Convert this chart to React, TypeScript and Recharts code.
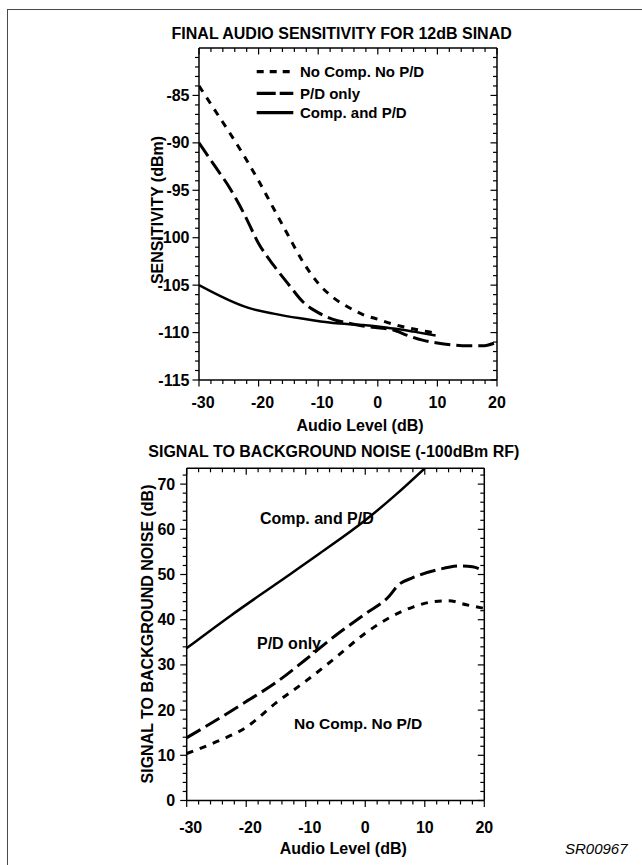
import React from 'react';
import { LineChart, Line, XAxis, YAxis, Legend } from 'recharts';

const FONT = '"Liberation Sans", Arial, Helvetica, sans-serif';

// ---------- Chart 1: Final audio sensitivity for 12dB SINAD ----------
const sensNoCompNoPD = [
  { x: -30, y: -84.0 }, { x: -27.5, y: -86.4 }, { x: -25, y: -88.8 }, { x: -22.5, y: -91.3 },
  { x: -20, y: -94.0 }, { x: -17.5, y: -96.9 }, { x: -15, y: -99.8 }, { x: -12.5, y: -102.6 },
  { x: -10, y: -104.8 }, { x: -7.5, y: -106.3 }, { x: -5, y: -107.3 }, { x: -2.5, y: -108.1 },
  { x: 0, y: -108.6 }, { x: 2.5, y: -109.1 }, { x: 5, y: -109.5 }, { x: 7.5, y: -109.8 }, { x: 10, y: -110.1 },
];
const sensPDOnly = [
  { x: -30, y: -90.0 }, { x: -27.5, y: -92.3 }, { x: -25, y: -94.6 }, { x: -22.5, y: -97.4 },
  { x: -20, y: -100.6 }, { x: -17.5, y: -102.9 }, { x: -15, y: -104.9 }, { x: -12.5, y: -106.8 },
  { x: -10, y: -107.9 }, { x: -7.5, y: -108.6 }, { x: -5, y: -109.0 }, { x: -2.5, y: -109.3 },
  { x: 0, y: -109.5 }, { x: 2.5, y: -109.7 }, { x: 5, y: -110.3 }, { x: 7.5, y: -110.8 },
  { x: 10, y: -111.1 }, { x: 12.5, y: -111.3 }, { x: 15, y: -111.4 }, { x: 17.5, y: -111.4 }, { x: 20, y: -111.0 },
];
const sensCompPD = [
  { x: -30, y: -105.0 }, { x: -21.7, y: -107.4 }, { x: -17.5, y: -108.0 },
  { x: -13, y: -108.5 }, { x: -7.5, y: -109.0 }, { x: -2.5, y: -109.2 }, { x: 0, y: -109.35 },
  { x: 3, y: -109.6 }, { x: 6, y: -109.9 }, { x: 9.7, y: -110.3 },
];

// ---------- Chart 2: Signal to background noise (-100dBm RF) ----------
const snrCompPD = [
  { x: -30, y: 33.7 }, { x: -22.5, y: 41.0 }, { x: -15, y: 47.9 }, { x: -7.5, y: 54.8 },
  { x: 0, y: 62.0 }, { x: 5, y: 67.5 }, { x: 10, y: 73.5 },
];
const snrPDOnly = [
  { x: -30, y: 13.9 }, { x: -25, y: 17.8 }, { x: -20, y: 21.9 }, { x: -15, y: 26.1 }, { x: -10, y: 31.2 },
  { x: -5, y: 36.5 }, { x: 0, y: 41.3 }, { x: 4, y: 45.2 }, { x: 5.5, y: 47.6 }, { x: 8, y: 49.3 },
  { x: 12, y: 51.0 }, { x: 16, y: 51.9 }, { x: 18, y: 51.7 }, { x: 20, y: 50.8 },
];
const snrNoCompNoPD = [
  { x: -30, y: 10.4 }, { x: -25, y: 13.0 }, { x: -20, y: 16.2 }, { x: -15, y: 21.6 }, { x: -10, y: 26.4 },
  { x: -5, y: 31.6 }, { x: 0, y: 37.0 }, { x: 4, y: 40.4 }, { x: 8, y: 42.8 }, { x: 11.5, y: 44.0 },
  { x: 14, y: 44.2 }, { x: 17, y: 43.3 }, { x: 20, y: 42.5 },
];

// ---------- Axis tick values ----------
const xTicks: number[] = [];
for (let v = -30; v <= 20; v += 2) xTicks.push(v);
const sensTicks: number[] = [];
for (let v = -115; v <= -81; v += 1) sensTicks.push(v);
const snrTicks: number[] = [];
for (let v = 0; v <= 72; v += 2) snrTicks.push(v);

const seriesNames = ['No Comp. No P/D', 'P/D only', 'Comp. and P/D'];
const annotationLabels = ['Comp. and P/D', 'P/D only', 'No Comp. No P/D'];

const SHORT_DASH = '7 7';
const LONG_DASH = '16 6';
const MAJOR = 6.5;
const MINOR = 4;
const TICK_FONT = 16;

const textStyle = { fontFamily: FONT, fontWeight: 700, fill: '#000' } as const;

const isMajor = (v: number, step: number) => Math.abs(v % step) < 1e-9;

function bottomTick(step: number, labelDy: number) {
  return (props: any) => {
    const { x, y, payload } = props;
    const v = payload.value as number;
    const major = isMajor(v, step);
    return (
      <g>
        <line x1={x} x2={x} y1={y} y2={y + (major ? MAJOR : MINOR)} stroke="#000" strokeWidth={1.2} />
        {major ? (
          <text x={x + (v < 0 ? 4 : 0)} y={y + labelDy} textAnchor="middle" dominantBaseline="central"
            fontSize={TICK_FONT} fontWeight="bold" fontFamily={FONT} fill="#000" style={textStyle}>
            {v}
          </text>
        ) : null}
      </g>
    );
  };
}
function topTick(step: number) {
  return (props: any) => {
    const { x, y, payload } = props;
    const major = isMajor(payload.value, step);
    return <line x1={x} x2={x} y1={y} y2={y + (major ? MAJOR : MINOR)} stroke="#000" strokeWidth={1.2} />;
  };
}
function leftTick(step: number, labelDx: number) {
  return (props: any) => {
    const { x, y, payload } = props;
    const v = payload.value as number;
    const major = isMajor(v, step);
    return (
      <g>
        <line x1={x - (major ? MAJOR : MINOR)} x2={x} y1={y} y2={y} stroke="#000" strokeWidth={1.2} />
        {major ? (
          <text x={x - labelDx} y={y} textAnchor="end" dominantBaseline="central"
            fontSize={TICK_FONT} fontWeight="bold" fontFamily={FONT} fill="#000" style={textStyle}>
            {v}
          </text>
        ) : null}
      </g>
    );
  };
}
function rightTick(step: number) {
  return (props: any) => {
    const { x, y, payload } = props;
    const major = isMajor(payload.value, step);
    return <line x1={x - (major ? MAJOR : MINOR)} x2={x} y1={y} y2={y} stroke="#000" strokeWidth={1.2} />;
  };
}

const axisLine = { stroke: '#000', strokeWidth: 1.5 };

const LegendBox = () => {
  const rows = [
    { name: seriesNames[0], dash: '7 6', y: 11.7 },
    { name: seriesNames[1], dash: '19 4', y: 33.3 },
    { name: seriesNames[2], dash: undefined, y: 52.7 },
  ];
  return (
    <svg width={220} height={66}>
      {rows.map((r) => (
        <g key={r.name}>
          <line x1={6.7} x2={43.3} y1={r.y} y2={r.y} stroke="#000" strokeWidth={3.2} strokeDasharray={r.dash} />
          <text x={50} y={r.y} dominantBaseline="central" fontSize={15} style={textStyle}>{r.name}</text>
        </g>
      ))}
    </svg>
  );
};

export default function App() {
  return (
    <div style={{ position: 'absolute', left: 0, top: 0, width: 642, height: 865, overflow: 'hidden', background: '#fff' }}>
      <div style={{ position: 'absolute', left: 7, top: 9, width: 700, height: 900, borderLeft: '1.5px solid #4a4a4a', borderTop: '1.5px solid #4a4a4a' }} />

      <div style={{ position: 'absolute', left: 0, top: 0 }}>
        <LineChart width={642} height={430} margin={{ top: 47, right: 144, bottom: 49, left: 198 }}>
          <XAxis xAxisId="b" dataKey="x" type="number" domain={[-30, 20]} ticks={xTicks} interval={0} height={1}
            tickSize={0} tickMargin={0} tickLine={false} axisLine={axisLine} tick={bottomTick(10, 22.5)} allowDataOverflow />
          <XAxis xAxisId="t" dataKey="x" type="number" orientation="top" domain={[-30, 20]} ticks={xTicks} interval={0} height={1}
            tickSize={0} tickMargin={0} tickLine={false} axisLine={axisLine} tick={topTick(10)} allowDataOverflow />
          <YAxis yAxisId="l" type="number" domain={[-115, -80]} ticks={sensTicks} interval={0} width={1}
            tickSize={0} tickMargin={0} tickLine={false} axisLine={axisLine} tick={leftTick(5, 9.5)} allowDataOverflow />
          <YAxis yAxisId="r" type="number" orientation="right" domain={[-115, -80]} ticks={sensTicks} interval={0} width={1}
            tickSize={0} tickMargin={0} tickLine={false} axisLine={axisLine} tick={rightTick(5)} allowDataOverflow />
          <Legend layout="vertical" align="center" verticalAlign="middle" wrapperStyle={{ left: 250, top: 60, width: 220 }} content={() => <LegendBox />} />
          <Line xAxisId="b" yAxisId="l" name={seriesNames[0]} data={sensNoCompNoPD} dataKey="y" type="monotone" stroke="#000" strokeWidth={3} strokeDasharray={SHORT_DASH} dot={false} isAnimationActive={false} />
          <Line xAxisId="b" yAxisId="l" name={seriesNames[1]} data={sensPDOnly} dataKey="y" type="monotone" stroke="#000" strokeWidth={3} strokeDasharray={LONG_DASH} dot={false} isAnimationActive={false} />
          <Line xAxisId="b" yAxisId="l" name={seriesNames[2]} data={sensCompPD} dataKey="y" type="monotone" stroke="#000" strokeWidth={2.5} dot={false} isAnimationActive={false} />
        </LineChart>
      </div>

      <div style={{ position: 'absolute', left: 0, top: 430 }}>
        <LineChart width={642} height={435} margin={{ top: 37.3, right: 156.7, bottom: 63.5, left: 185.7 }}>
          <XAxis xAxisId="b" dataKey="x" type="number" domain={[-30, 20]} ticks={xTicks} interval={0} height={1}
            tickSize={0} tickMargin={0} tickLine={false} axisLine={axisLine} tick={bottomTick(10, 27)} allowDataOverflow />
          <XAxis xAxisId="t" dataKey="x" type="number" orientation="top" domain={[-30, 20]} ticks={xTicks} interval={0} height={1}
            tickSize={0} tickMargin={0} tickLine={false} axisLine={axisLine} tick={topTick(10)} allowDataOverflow />
          <YAxis yAxisId="l" type="number" domain={[0, 73.5]} ticks={snrTicks} interval={0} width={1}
            tickSize={0} tickMargin={0} tickLine={false} axisLine={axisLine} tick={leftTick(10, 11.5)} allowDataOverflow />
          <YAxis yAxisId="r" type="number" orientation="right" domain={[0, 73.5]} ticks={snrTicks} interval={0} width={1}
            tickSize={0} tickMargin={0} tickLine={false} axisLine={axisLine} tick={rightTick(10)} allowDataOverflow />
          <Line xAxisId="b" yAxisId="l" name={seriesNames[2]} data={snrCompPD} dataKey="y" type="monotone" stroke="#000" strokeWidth={2.5} dot={false} isAnimationActive={false} />
          <Line xAxisId="b" yAxisId="l" name={seriesNames[1]} data={snrPDOnly} dataKey="y" type="monotone" stroke="#000" strokeWidth={3} strokeDasharray={LONG_DASH} dot={false} isAnimationActive={false} />
          <Line xAxisId="b" yAxisId="l" name={seriesNames[0]} data={snrNoCompNoPD} dataKey="y" type="monotone" stroke="#000" strokeWidth={3} strokeDasharray={SHORT_DASH} dot={false} isAnimationActive={false} />
        </LineChart>
      </div>

      <svg width={642} height={865} style={{ position: 'absolute', left: 0, top: 0, pointerEvents: 'none' }}>
        <text x={341.7} y={33} textAnchor="middle" dominantBaseline="central" fontSize={16} style={textStyle}>FINAL AUDIO SENSITIVITY FOR 12dB SINAD</text>
        <text x={360} y={425} textAnchor="middle" dominantBaseline="central" fontSize={16} style={textStyle}>Audio Level (dB)</text>
        <text transform="translate(157,210) rotate(-90)" textAnchor="middle" dominantBaseline="central" fontSize={16} style={textStyle}>SENSITIVITY (dBm)</text>

        <text x={333.8} y={451.7} textAnchor="middle" dominantBaseline="central" fontSize={16} style={textStyle}>SIGNAL TO BACKGROUND NOISE (-100dBm RF)</text>
        <text x={343.3} y={848.3} textAnchor="middle" dominantBaseline="central" fontSize={16} style={textStyle}>Audio Level (dB)</text>
        <text transform="translate(147,634) rotate(-90)" textAnchor="middle" dominantBaseline="central" fontSize={16} style={textStyle}>SIGNAL TO BACKGROUND NOISE (dB)</text>

        <text x={260} y={518} dominantBaseline="central" fontSize={16} style={textStyle}>{annotationLabels[0]}</text>
        <text x={257} y={643} dominantBaseline="central" fontSize={16} style={textStyle}>{annotationLabels[1]}</text>
        <text x={294} y={723.5} dominantBaseline="central" fontSize={15.5} style={textStyle}>{annotationLabels[2]}</text>

        <text x={565} y={848} dominantBaseline="central" fontSize={15} fontStyle="italic" style={{ fontFamily: FONT, fill: '#000' }}>SR00967</text>
      </svg>
    </div>
  );
}
